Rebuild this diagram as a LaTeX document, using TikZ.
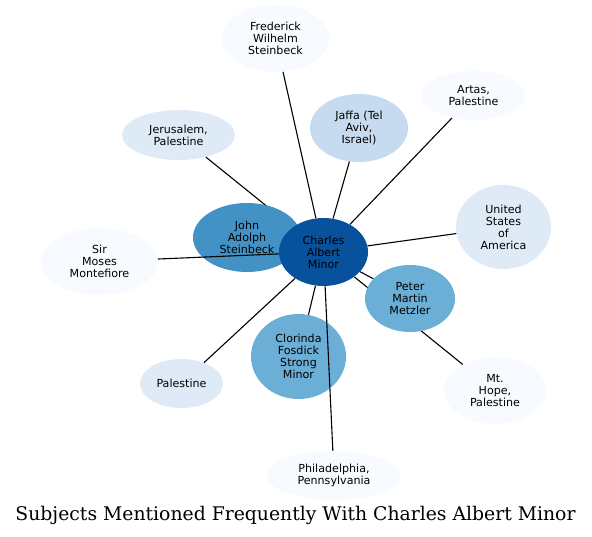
\documentclass[tikz,border=0pt]{standalone}
\usepackage{fontspec}
\setmainfont{DejaVu Sans}
\newfontfamily\titlefont{DejaVu Serif}
\usetikzlibrary{shapes.geometric}
\definecolor{cA}{HTML}{F7FBFF}
\definecolor{cB}{HTML}{DEEBF7}
\definecolor{cC}{HTML}{C6DBEF}
\definecolor{cD}{HTML}{6BAED6}
\definecolor{cE}{HTML}{4292C6}
\definecolor{cF}{HTML}{08519C}
\tikzset{
  ent/.style={ellipse, inner sep=0pt, align=center, text=black,
    font=\fontsize{11.1}{12}\selectfont},
  link/.style={draw=black, line width=1.1pt},
}
\begin{document}
\begin{tikzpicture}[x=1pt,y=-1pt]
\useasboundingbox (0,0) rectangle (592,537);
% coordinates for nodes drawn later
\coordinate (pcam) at (323.5,252);
% nodes that are overlapped by edges / hidden edges
\node[ent, fill=cB, minimum width=113pt, minimum height=50pt] (jer) at (178.5,135) {Jerusalem,\\Palestine};
\node[ent, fill=cA, minimum width=102pt, minimum height=67pt] (mth) at (495,390.5) {Mt.\\Hope,\\Palestine};
\node[ent, minimum width=89pt, minimum height=68pt] (camh) at (pcam) {};
\draw[link] (jer) -- (camh);
\draw[link] (mth) -- (camh);
\node[ent, fill=cE, minimum width=108pt, minimum height=69pt] (jas) at (247,237.5) {John\\Adolph\\Steinbeck};
\node[ent, fill=cD, minimum width=90pt, minimum height=67pt] (pmm) at (410,298.5) {Peter\\Martin\\Metzler};
\node[ent, fill=cD, minimum width=95pt, minimum height=85pt] (cfs) at (298.5,356.5) {Clorinda\\Fosdick\\Strong\\Minor};
% other nodes
\node[ent, fill=cA, minimum width=107pt, minimum height=67pt] (fws) at (275.5,38.5) {Frederick\\Wilhelm\\Steinbeck};
\node[ent, fill=cC, minimum width=98pt, minimum height=68pt] (jaf) at (359,128) {Jaffa (Tel\\Aviv,\\Israel)};
\node[ent, fill=cA, minimum width=103pt, minimum height=49pt] (art) at (473.5,95.5) {Artas,\\Palestine};
\node[ent, fill=cB, minimum width=95pt, minimum height=84pt] (usa) at (503.5,227) {United\\States\\of\\America};
\node[ent, fill=cA, minimum width=117pt, minimum height=67pt] (smm) at (99.5,261.5) {Sir\\Moses\\Montefiore};
\node[ent, fill=cB, minimum width=83pt, minimum height=49pt] (pal) at (181.5,383.5) {Palestine};
\node[ent, fill=cA, minimum width=134pt, minimum height=49pt] (phi) at (334,475.5) {Philadelphia,\\Pennsylvania};
% visible edges
\draw[link] (smm) -- (camh);
\draw[link] (phi) -- (camh);
\draw[link] (fws) -- (camh);
\draw[link] (jaf) -- (camh);
\draw[link] (art) -- (camh);
\draw[link] (usa) -- (camh);
\draw[link] (pmm) -- (camh);
\draw[link] (cfs) -- (camh);
\draw[link] (pal) -- (camh);
% central node
\node[ent, fill=cF, minimum width=89pt, minimum height=68pt] (cam) at (pcam) {Charles\\Albert\\Minor};
% title
\node[font=\titlefont\fontsize{18.8}{20}\selectfont, inner sep=0pt] (title) at (295.5,515) {Subjects Mentioned Frequently With Charles Albert Minor};
\end{tikzpicture}
\end{document}
